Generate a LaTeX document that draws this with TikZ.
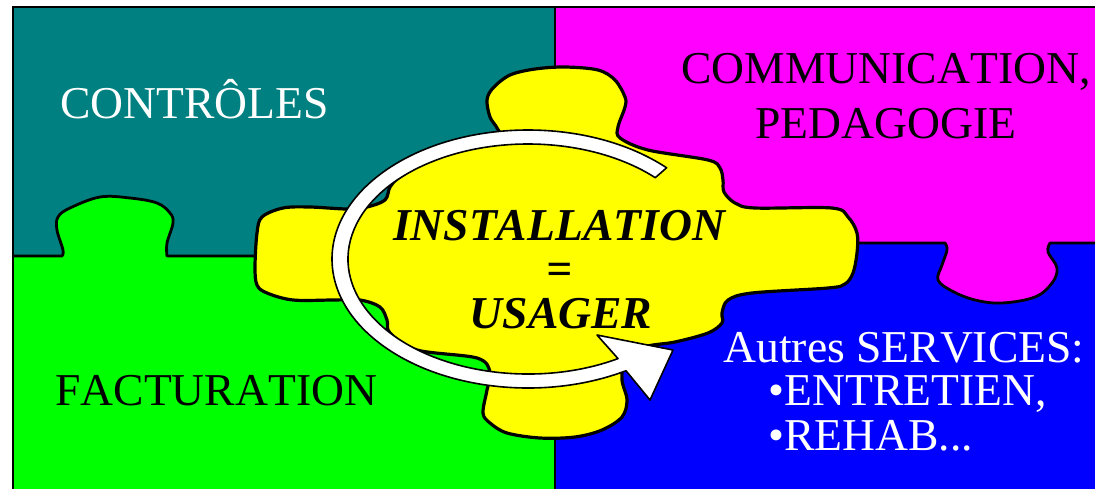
\documentclass[tikz,border=0pt]{standalone}
\usepackage{fontspec}
\setmainfont{Liberation Serif}[Kerning=Off]
\usetikzlibrary{calc}
\definecolor{ctrlcolor}{rgb}{0.0,0.5,0.5}
\definecolor{commcolor}{rgb}{1.0,0.0,1.0}
\definecolor{factcolor}{rgb}{0.0,1.0,0.0}
\definecolor{servcolor}{rgb}{0.0,0.0,1.0}
\definecolor{instcolor}{rgb}{1.0,1.0,0.0}
\newcommand{\bigfont}{\fontsize{22.8}{27.5}\selectfont}
\tikzset{
  edge/.style={draw=black,line width=1.4pt,line join=round},
  blob/.style={fill=instcolor,draw=black,line width=1.6pt,line join=round},
  band/.style={fill=white,draw=black,line width=0.8pt,line join=round},
  lbl/.style={inner sep=0pt,font=\bigfont}
}

\begin{document}
\begin{tikzpicture}[x=0.5pt,y=-0.5pt]
\useasboundingbox (0,0) rectangle (1095,488);
\clip (0,0) rectangle (1095,488);
\coordinate (O) at (528,259);

% the four pieces
\fill[ctrlcolor] (13,7) rectangle (555,256);
\fill[commcolor] (555,7) rectangle (1100,243);
\fill[factcolor] (13,256) rectangle (555,500);
\fill[servcolor] (555,243) rectangle (1100,500);

% tabs and borders
\draw[edge,fill=factcolor] (13,256) -- plot[smooth,tension=0.6] coordinates {(62,256) (63,250) (57,230) (58,217) (70,208) (100,197) (130,198) (157,203) (170,213) (173,223) (167,243) (167,256)} -- (320,256);
\draw[edge,fill=commcolor] (820,243) -- plot[smooth,tension=0.6] coordinates {(945,243) (947,250) (942,265) (938,280) (952,291) (975,300) (1002,303) (1035,297) (1052,283) (1057,268) (1048,252) (1050,243)} -- (1100,243);
\draw[edge] (555,7) -- (555,100);
\draw[edge] (555,420) -- (555,500);
\draw[line width=1.4pt] (13,500) -- (13,7) -- (1100,7);

% centre piece
\draw[blob] plot[smooth cycle,tension=0.55] coordinates {
  (497,128) (490,117) (487,100) (493,88) (510,75) (535,69) (565,67) (598,70)
  (615,80) (625,97) (625,107) (618,127) (620,138) (648,150) (708,160) (720,168)
  (723,180) (724,192) (735,203) (755,208) (832,208) (848,217) (857,233) (857,253)
  (853,273) (845,284) (828,288) (752,293) (728,300) (722,313) (722,323) (708,333)
  (675,342) (645,347) (625,362) (622,380) (627,400) (622,417) (602,430) (575,437)
  (540,438) (507,433) (490,423) (483,413) (487,390) (490,372) (477,358) (417,350)
  (390,333) (387,320) (380,307) (360,300) (333,300) (293,300) (267,293) (257,285)
  (255,267) (257,233) (262,217) (283,208) (310,207) (347,209) (367,207) (385,200)
  (390,187) (400,177) (433,157) (467,147) (500,140)};

% turning arrow
\draw[band] ($(O)+(-45:196 and 129)$) arc[start angle=-45,end angle=-300,x radius=196,y radius=129]
  -- (650,400) -- (673,350) -- (597,335)
  -- ($(O)+(-300:180 and 115)$) arc[start angle=-300,end angle=-45,x radius=180,y radius=115] -- cycle;

% texts
\node[lbl,white,anchor=base west] (ctrl) at (60,118) {CONTRÔLES};
\node[lbl,anchor=base] (comm) at (886,83) {COMMUNICATION,};
\node[lbl,anchor=base] (peda) at (886,138) {PEDAGOGIE};
\node[lbl,anchor=base west] (fact) at (55,405) {FACTURATION};
\node[lbl,font=\bigfont\bfseries\itshape,anchor=base] (inst) at (559,240) {INSTALLATION};
\node[lbl,font=\bigfont\bfseries\itshape,anchor=base] (eq) at (559,284) {=};
\node[lbl,font=\bigfont\bfseries\itshape,anchor=base] (usag) at (561,328) {USAGER};
\node[lbl,white,anchor=base west] (serv) at (723,362) {Autres SERVICES:};
\node[lbl,white,anchor=base west] (entr) at (768,405) {•ENTRETIEN,};
\node[lbl,white,anchor=base west] (reha) at (768,450) {•REHAB...};

\end{tikzpicture}
\end{document}
